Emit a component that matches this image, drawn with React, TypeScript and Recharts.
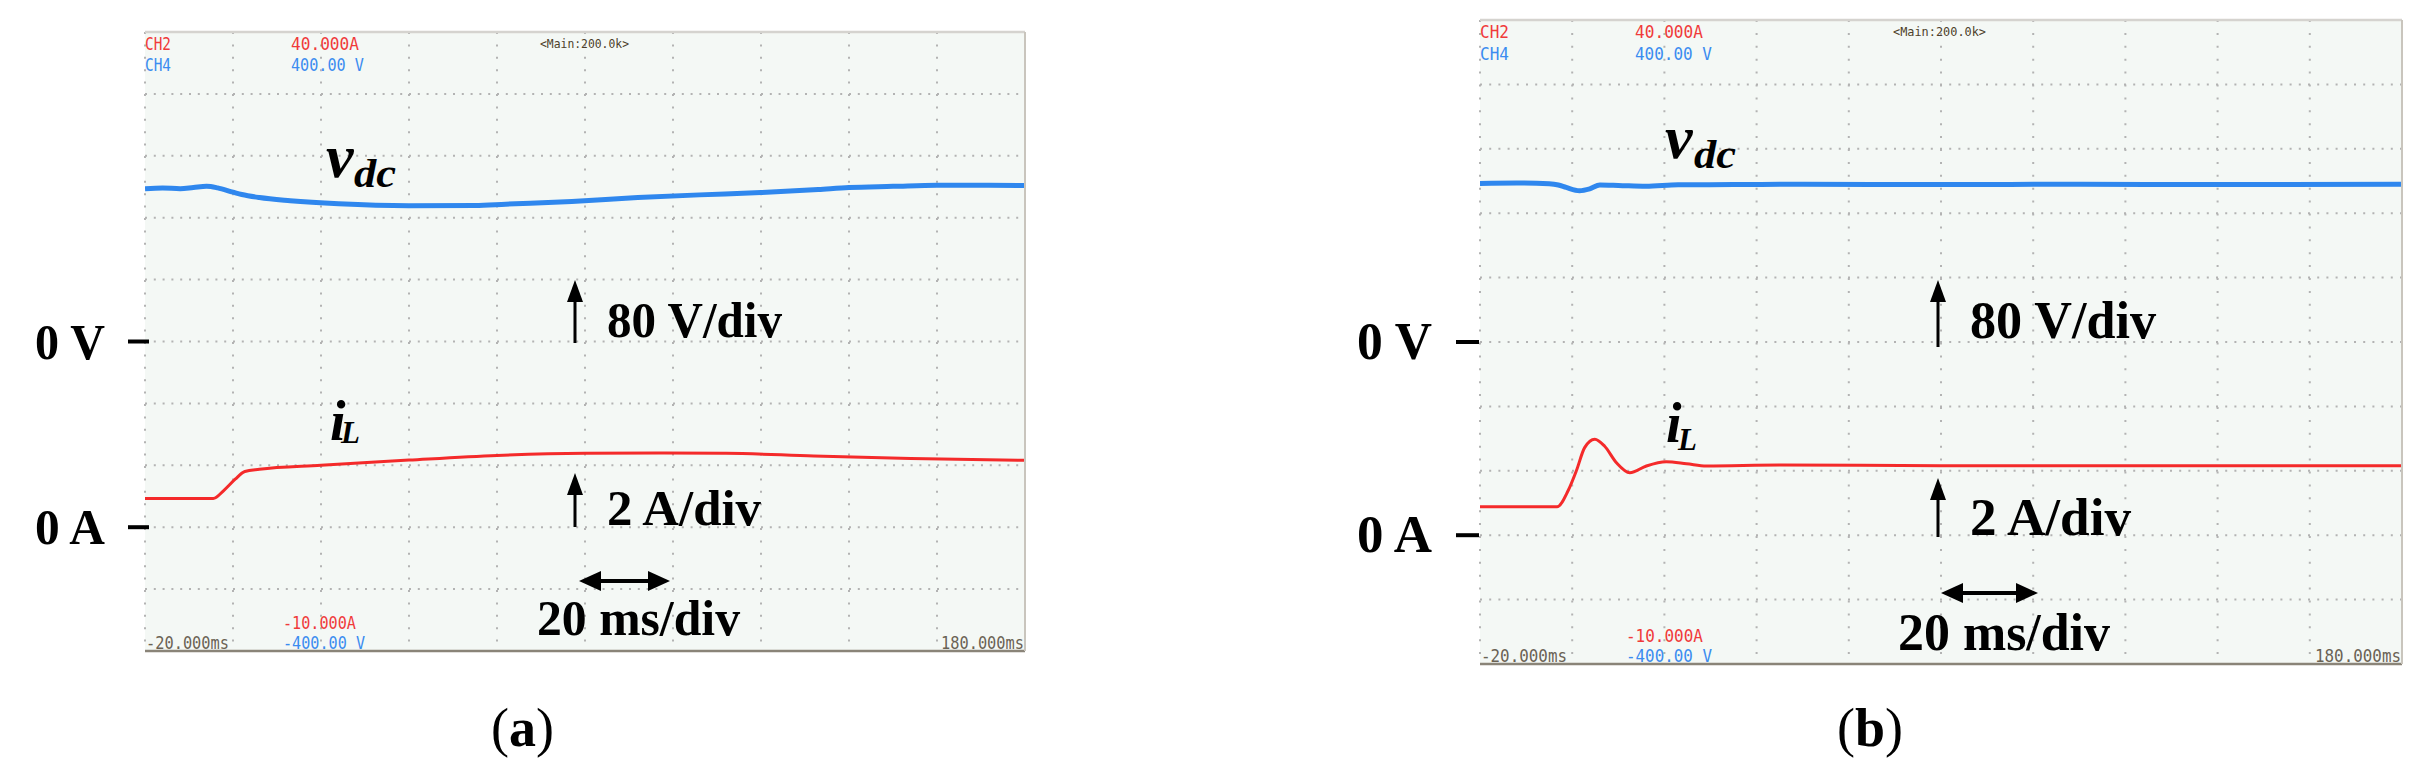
import React from 'react';
import { LineChart, Line, XAxis, YAxis, CartesianGrid } from 'recharts';

// ---- axes (oscilloscope divisions) ----
const timeTicks = [-20, 0, 20, 40, 60, 80, 100, 120, 140, 160, 180]; // ms, 20 ms/div
const voltTicks = [-400, -320, -240, -160, -80, 0, 80, 160, 240, 320, 400]; // V, 80 V/div
const currentTicks = [0]; // A, 2 A/div
const voltDomain = [-400, 400];
const currentDomain = [-4, 16];
const timeDomain = [-20, 180];

// ---- panel (a) ----
const vdcA = [
  { t: -20, v: 197.5 }, { t: -16, v: 198.5 }, { t: -12, v: 197.5 }, { t: -9, v: 199 },
  { t: -6, v: 200.5 }, { t: -3.5, v: 198.5 }, { t: 0, v: 193 }, { t: 2, v: 190 },
  { t: 6, v: 186 }, { t: 13, v: 182 }, { t: 24, v: 178 }, { t: 40, v: 175.5 },
  { t: 55, v: 175.8 }, { t: 62, v: 177.5 }, { t: 77, v: 181 }, { t: 92, v: 186 },
  { t: 106, v: 189.5 }, { t: 120, v: 192.5 }, { t: 133, v: 196.5 }, { t: 140, v: 199 },
  { t: 150, v: 200.5 }, { t: 160, v: 202 }, { t: 170, v: 202 }, { t: 180, v: 201.5 },
];
const iLA = [
  { t: -20, i: 0.93 }, { t: -4.5, i: 0.93 }, { t: -2, i: 1.2 }, { t: 0.5, i: 1.55 },
  { t: 2.7, i: 1.8 }, { t: 6, i: 1.87 }, { t: 20, i: 2.0 }, { t: 40, i: 2.17 },
  { t: 60, i: 2.32 }, { t: 80, i: 2.39 }, { t: 98, i: 2.4 }, { t: 112, i: 2.39 },
  { t: 132, i: 2.3 }, { t: 154, i: 2.22 }, { t: 180, i: 2.16 },
];

// ---- panel (b) ----
const vdcB = [
  { t: -20, v: 197 }, { t: -12, v: 197.5 }, { t: -5, v: 196.5 }, { t: -3, v: 195 },
  { t: -1.3, v: 192 }, { t: 1.6, v: 188 }, { t: 3.8, v: 190.3 }, { t: 6, v: 195 },
  { t: 10, v: 194.5 }, { t: 16, v: 193.5 }, { t: 23, v: 195.3 }, { t: 35, v: 195.5 },
  { t: 50, v: 196 }, { t: 80, v: 195.5 }, { t: 110, v: 196 }, { t: 140, v: 195.5 },
  { t: 180, v: 196 },
];
const iLB = [
  { t: -20, i: 0.88 }, { t: -3.3, i: 0.88 }, { t: -0.9, i: 1.38 }, { t: 0.9, i: 2.0 },
  { t: 2.7, i: 2.72 }, { t: 4.9, i: 2.98 }, { t: 7, i: 2.77 }, { t: 9.6, i: 2.25 },
  { t: 12.5, i: 1.94 }, { t: 16.1, i: 2.15 }, { t: 20.4, i: 2.28 }, { t: 24.8, i: 2.22 },
  { t: 29.1, i: 2.15 }, { t: 45, i: 2.18 }, { t: 80, i: 2.16 }, { t: 120, i: 2.16 },
  { t: 180, i: 2.16 },
];

const SERIF = "'Liberation Serif', 'Times New Roman', serif";
const MONO = "'DejaVu Sans Mono', 'Liberation Mono', monospace";
const BLUE = '#2f87ee';
const RED = '#f42a2a';
const SCOPE_RED = '#f03a3a';
const SCOPE_BLUE = '#3b8cf0';

const panels = [
  {
    key: 'a', left: 0, width: 1100,
    margin: { top: 23, right: 82, left: 135, bottom: 89 },
    hDash: '2 6.8', vDash: '2 10.4',
    fs: 51, zeroLen: 70, labelGap: 40, dashFrom: -17, dashTo: 4, tickLen: 83,
    vdc: vdcA, il: iLA,
  },
  {
    key: 'b', left: 1292, width: 1115,
    margin: { top: 11, right: 12, left: 178, bottom: 76 },
    hDash: '2 7.2', vDash: '2 10.9',
    fs: 53, zeroLen: 75, labelGap: 48, dashFrom: -24, dashTo: -1, tickLen: 86,
    vdc: vdcB, il: iLB,
  },
];

function ZeroTick(props: any) {
  const { x, y, payload, text, cfg, shift = 0 } = props;
  if (payload.value !== 0) return <g />;
  const ax = x + shift;
  return (
    <g>
      <line x1={ax + cfg.dashFrom} x2={ax + cfg.dashTo} y1={y} y2={y} stroke="#000" strokeWidth={4} />
      <text x={ax - cfg.labelGap} y={y + 17} textAnchor="end" fontFamily={SERIF} fontWeight="bold"
        fontSize={cfg.fs} textLength={cfg.zeroLen} lengthAdjust="spacingAndGlyphs" fill="#000">{text}</text>
    </g>
  );
}

function TimeTick(props: any) {
  const { x, y, payload, cfg } = props;
  const v = payload.value;
  if (v !== timeDomain[0] && v !== timeDomain[1]) return <g />;
  const first = v === timeDomain[0];
  return (
    <text x={first ? x + 1 : x - 1} y={y - 2} textAnchor={first ? 'start' : 'end'} fontFamily={MONO}
      fontSize={17} fill="#6a6254" textLength={cfg.tickLen} lengthAdjust="spacingAndGlyphs">
      {`${v.toFixed(3)}ms`}
    </text>
  );
}

function Panel({ cfg }: any) {
  return (
    <div style={{ position: 'absolute', left: cfg.left, top: 0 }}>
      <LineChart width={cfg.width} height={762} margin={cfg.margin}>
        <CartesianGrid horizontal vertical={false} stroke="#b3b3b3" strokeWidth={2}
          strokeDasharray={cfg.hDash} fill="#f4f8f5" />
        <CartesianGrid horizontal={false} vertical stroke="#b3b3b3" strokeWidth={2}
          strokeDasharray={cfg.vDash} />
        <XAxis dataKey="t" type="number" domain={timeDomain} ticks={timeTicks} interval={0}
          allowDataOverflow height={30} tickLine={false} tickSize={0} tickMargin={0}
          axisLine={{ stroke: '#8a8478', strokeWidth: 2.5 }}
          tick={(p: any) => <TimeTick {...p} cfg={cfg} />} />
        <XAxis xAxisId="top" orientation="top" type="number" domain={timeDomain} height={1}
          tick={false} tickLine={false} axisLine={{ stroke: '#d5d3cf', strokeWidth: 2.5 }} />
        <YAxis type="number" domain={voltDomain} ticks={voltTicks} interval={0} width={1}
          axisLine={false} tickLine={false} tickSize={0} tickMargin={0}
          tick={(p: any) => <ZeroTick {...p} text="0 V" cfg={cfg} />} />
        <YAxis yAxisId="i" type="number" domain={currentDomain} ticks={currentTicks} interval={0} width={1}
          axisLine={false} tickLine={false} tickSize={0} tickMargin={0}
          tick={(p: any) => <ZeroTick {...p} text="0 A" cfg={cfg} shift={1} />} />
        <YAxis yAxisId="r" orientation="right" type="number" domain={[0, 1]} width={1}
          tick={false} tickLine={false} axisLine={{ stroke: '#c9c5bd', strokeWidth: 2 }} />
        <Line data={cfg.vdc} dataKey="v" type="monotone" stroke={BLUE} strokeWidth={5}
          dot={false} activeDot={false} isAnimationActive={false} />
        <Line data={cfg.il} dataKey="i" yAxisId="i" type="monotone" stroke={RED} strokeWidth={3}
          dot={false} activeDot={false} isAnimationActive={false} />
      </LineChart>
    </div>
  );
}

function UpArrow({ x, top, bottom }: any) {
  return (
    <g>
      <line x1={x} x2={x} y1={top + 18} y2={bottom} stroke="#000" strokeWidth={3} />
      <polygon points={`${x},${top} ${x - 8},${top + 22} ${x + 8},${top + 22}`} fill="#000" />
    </g>
  );
}

function DoubleArrow({ x1, x2, y }: any) {
  return (
    <g>
      <line x1={x1 + 18} x2={x2 - 18} y1={y} y2={y} stroke="#000" strokeWidth={4} />
      <polygon points={`${x1},${y} ${x1 + 22},${y - 10} ${x1 + 22},${y + 10}`} fill="#000" />
      <polygon points={`${x2},${y} ${x2 - 22},${y - 10} ${x2 - 22},${y + 10}`} fill="#000" />
    </g>
  );
}

function Big({ x, y, fs, len, children }: any) {
  return (
    <text x={x} y={y} fontFamily={SERIF} fontWeight="bold" fontSize={fs} fill="#000"
      textLength={len} lengthAdjust="spacingAndGlyphs">{children}</text>
  );
}

function Scope({ x, y, color, len, fs = 17, children }: any) {
  return (
    <text x={x} y={y} fontFamily={MONO} fontSize={fs} fill={color}
      textLength={len} lengthAdjust="spacingAndGlyphs">{children}</text>
  );
}

function Overlay() {
  return (
    <svg width={2407} height={762} style={{ position: 'absolute', left: 0, top: 0, pointerEvents: 'none' }}>
      <g transform="translate(-8,-8)">
        {/* panel (a) scope texts */}
        <Scope x={145} y={50} color={SCOPE_RED} len={26}>CH2</Scope>
        <Scope x={145} y={71} color={SCOPE_BLUE} len={26}>CH4</Scope>
        <Scope x={291} y={50} color={SCOPE_RED} len={68}>40.000A</Scope>
        <Scope x={291} y={71} color={SCOPE_BLUE} len={73}>400.00 V</Scope>
        <Scope x={540} y={48} color="#4d3f2a" len={89} fs={13}>&lt;Main:200.0k&gt;</Scope>
        <Scope x={283} y={629} color={SCOPE_RED} len={73}>-10.000A</Scope>
        <Scope x={283} y={649} color={SCOPE_BLUE} len={82}>-400.00 V</Scope>
        {/* panel (a) annotations */}
        <text x={326} y={177} fontFamily={SERIF} fontWeight="bold" fontStyle="italic" fontSize={62}>v</text>
        <text x={354} y={187} fontFamily={SERIF} fontWeight="bold" fontStyle="italic" fontSize={40}
          textLength={42} lengthAdjust="spacingAndGlyphs">dc</text>
        <text x={330} y={440} fontFamily={SERIF} fontWeight="bold" fontStyle="italic" fontSize={56}>i</text>
        <text x={341} y={443} fontFamily={SERIF} fontWeight="bold" fontStyle="italic" fontSize={31}>L</text>
        <UpArrow x={575} top={280} bottom={343} />
        <Big x={607} y={337} fs={51} len={175}>80 V/div</Big>
        <UpArrow x={575} top={473} bottom={527} />
        <Big x={607} y={525} fs={51} len={154}>2 A/div</Big>
        <DoubleArrow x1={579} x2={670} y={581} />
        <Big x={537} y={635} fs={51} len={203}>20 ms/div</Big>
        <text x={491} y={746} fontFamily={SERIF} fontSize={54} fill="#000">(<tspan fontWeight="bold">a</tspan>)</text>

        {/* panel (b) scope texts */}
        <Scope x={1480} y={38} color={SCOPE_RED} len={29}>CH2</Scope>
        <Scope x={1480} y={60} color={SCOPE_BLUE} len={29}>CH4</Scope>
        <Scope x={1635} y={38} color={SCOPE_RED} len={68}>40.000A</Scope>
        <Scope x={1635} y={60} color={SCOPE_BLUE} len={77}>400.00 V</Scope>
        <Scope x={1893} y={36} color="#4d3f2a" len={93} fs={13}>&lt;Main:200.0k&gt;</Scope>
        <Scope x={1626} y={642} color={SCOPE_RED} len={77}>-10.000A</Scope>
        <Scope x={1626} y={662} color={SCOPE_BLUE} len={86}>-400.00 V</Scope>
        {/* panel (b) annotations */}
        <text x={1665} y={158} fontFamily={SERIF} fontWeight="bold" fontStyle="italic" fontSize={62}>v</text>
        <text x={1694} y={168} fontFamily={SERIF} fontWeight="bold" fontStyle="italic" fontSize={40}
          textLength={42} lengthAdjust="spacingAndGlyphs">dc</text>
        <text x={1666} y={442} fontFamily={SERIF} fontWeight="bold" fontStyle="italic" fontSize={56}>i</text>
        <text x={1678} y={450} fontFamily={SERIF} fontWeight="bold" fontStyle="italic" fontSize={31}>L</text>
        <UpArrow x={1938} top={280} bottom={347} />
        <Big x={1970} y={338} fs={53} len={186}>80 V/div</Big>
        <UpArrow x={1938} top={478} bottom={537} />
        <Big x={1970} y={535} fs={53} len={161}>2 A/div</Big>
        <DoubleArrow x1={1941} x2={2038} y={593} />
        <Big x={1898} y={650} fs={53} len={212}>20 ms/div</Big>
        <text x={1837} y={746} fontFamily={SERIF} fontSize={54} fill="#000">(<tspan fontWeight="bold">b</tspan>)</text>
      </g>
    </svg>
  );
}

export default function App() {
  return (
    <div style={{ position: 'relative', width: 2407, height: 762, background: '#fff' }}>
      {panels.map((cfg) => <Panel key={cfg.key} cfg={cfg} />)}
      <Overlay />
    </div>
  );
}
